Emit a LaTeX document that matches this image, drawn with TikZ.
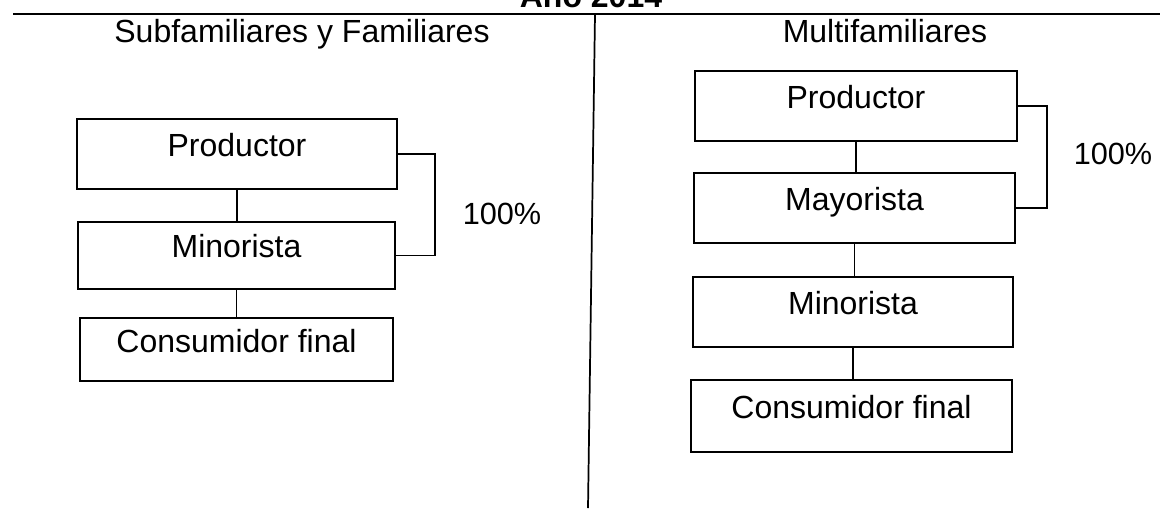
\documentclass[tikz,border=0pt]{standalone}
\usepackage{fontspec}
\setmainfont{Liberation Sans}

\begin{document}
\begin{tikzpicture}
	[x=0.75pt,y=-0.75pt,
	box/.style={draw,line width=1.6pt,inner sep=0pt,minimum width=241pt,minimum height=52.5pt,
		text height=0.72em,text depth=0.35em,font=\fontsize{24}{28}\selectfont},
	link/.style={line width=1.3pt},
	txt/.style={font=\fontsize{24}{28}\selectfont},
	rule/.style={line width=1.6pt}]
	\useasboundingbox (0,0) rectangle (1160,508);
	% titulo y separadores
	\node[txt,font=\fontsize{24}{28}\selectfont\bfseries,anchor=base] (year) at (591,7) {Año 2014};
	\coordinate (ruleL) at (13,14);
	\coordinate (ruleR) at (1160,14);
	\coordinate (divT) at (595,14);
	\coordinate (divB) at (588,508);
	\draw[rule] (ruleL) -- (ruleR);
	\draw[link] (divT) -- (divB);
	\node[txt,anchor=base] (lhead) at (302,42) {Subfamiliares y Familiares};
	\node[txt,anchor=base] (rhead) at (885,42) {Multifamiliares};

	% subfamiliares y familiares
	\node[box,minimum width=240pt] (lprod) at (237,154) {Productor};
	\node[box,minimum width=238pt,minimum height=50pt] (lmin) at (236.5,255.5) {Minorista};
	\node[box,minimum width=235pt,minimum height=47pt,text depth=0.27em] (lcons) at (236.5,349.5) {Consumidor final};
	\draw[link] (lprod.south) -- (lprod.south |- lmin.north);
	\draw[link] (lmin.south) -- (lmin.south |- lcons.north);
	\draw[link] (lprod.east) -- ++(37,0) |- (lmin.east);
	\node[txt,font=\fontsize{23}{27}\selectfont] (lpct) at (502,214) {100\%};

	% multifamiliares
	\node[box] (rprod) at (856,106) {Productor};
	\node[box] (rmay) at (854.5,208) {Mayorista};
	\node[box,minimum width=240pt] (rmin) at (853,312) {Minorista};
	\node[box,minimum height=54pt] (rcons) at (851.5,416) {Consumidor final};
	\draw[link] (rprod.south) -- (rprod.south |- rmay.north);
	\draw[link] (rmay.south) -- (rmay.south |- rmin.north);
	\draw[link] (rmin.south) -- (rmin.south |- rcons.north);
	\draw[link] (rprod.east) -- ++(29,0) |- (rmay.east);
	\node[txt,font=\fontsize{23}{27}\selectfont] (rpct) at (1113,154) {100\%};
\end{tikzpicture}
\end{document}
